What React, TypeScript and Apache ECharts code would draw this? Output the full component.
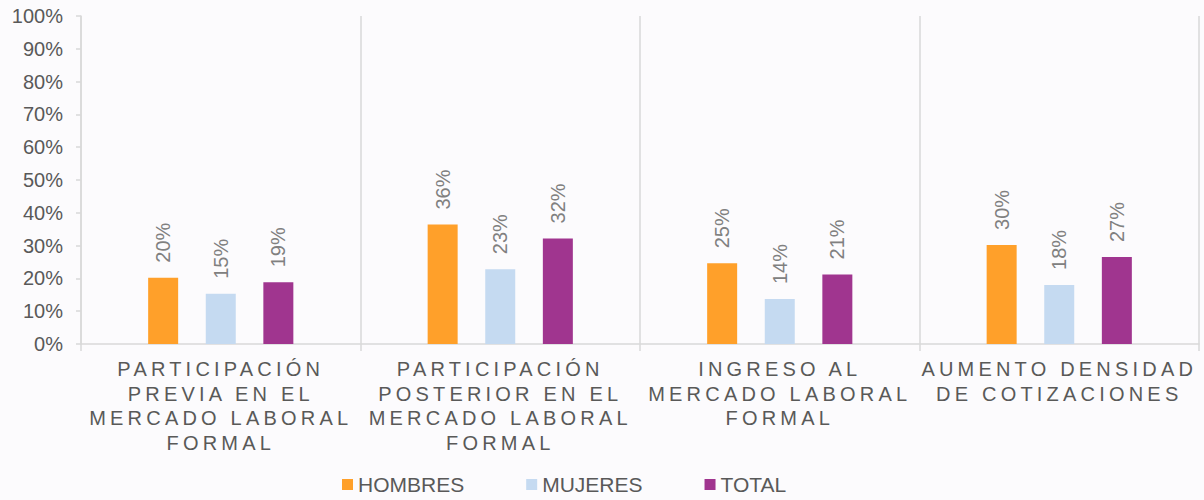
import React, { useEffect, useRef } from "react";
import * as echarts from "echarts";

const categories = [
  "PARTICIPACIÓN\nPREVIA EN EL\nMERCADO LABORAL\nFORMAL",
  "PARTICIPACIÓN\nPOSTERIOR EN EL\nMERCADO LABORAL\nFORMAL",
  "INGRESO AL\nMERCADO LABORAL\nFORMAL",
  "AUMENTO DENSIDAD\nDE COTIZACIONES",
];
const hombres = [20.2, 36.4, 24.6, 30.2];
const mujeres = [15.3, 22.8, 13.7, 18.0];
const total = [18.8, 32.2, 21.2, 26.5];
const seriesNames = ["HOMBRES", "MUJERES", "TOTAL"];
const colors = ["#FFA02A", "#C5DAF1", "#A0358F"];

const FONT = "'Liberation Sans', Arial, sans-serif";

export default function App() {
  const ref = useRef<HTMLDivElement>(null);
  useEffect(() => {
    if (!ref.current) return;
    const chart = echarts.init(ref.current, null, { renderer: "svg" });
    const label = {
      show: true,
      position: "top",
      rotate: 90,
      align: "left",
      verticalAlign: "middle",
      distance: 15,
      color: "#808080",
      fontSize: 20,
      fontFamily: FONT,
      formatter: (p: any) => Math.round(p.value) + "%",
    };
    const data = [hombres, mujeres, total];
    chart.setOption({
      animation: false,
      backgroundColor: "#FCFBFD",
      textStyle: { fontFamily: FONT },
      grid: { left: 81, right: 5, top: 16, bottom: 156, containLabel: false },
      legend: {
        left: 342,
        top: 474,
        padding: 0,
        itemWidth: 11,
        itemHeight: 11,
        itemGap: 62,
        icon: "rect",
        textStyle: { fontSize: 21, color: "#595959", fontFamily: FONT },
        data: seriesNames,
      },
      xAxis: {
        type: "category",
        data: categories,
        boundaryGap: true,
        axisLine: { show: true, lineStyle: { color: "#D9D9D9", width: 1.5 } },
        axisTick: { show: true, length: 7, lineStyle: { color: "#D9D9D9", width: 1.5 } },
        splitLine: { show: true, lineStyle: { color: "#D9D9D9", width: 1.5 } },
        axisLabel: {
          interval: 0,
          margin: 13,
          color: "#595958",
          fontSize: 20,
          lineHeight: 24.5,
          fontFamily: FONT,
        },
      },
      yAxis: {
        type: "value",
        min: 0,
        max: 100,
        interval: 10,
        axisLine: { show: true, lineStyle: { color: "#D9D9D9", width: 1.5 } },
        axisTick: { show: true, length: 5, lineStyle: { color: "#D9D9D9", width: 1.5 } },
        splitLine: { show: false },
        axisLabel: {
          formatter: "{value}%",
          color: "#595959",
          fontSize: 20,
          margin: 18,
          fontFamily: FONT,
        },
      },
      series: seriesNames.map((name, i) => ({
        name,
        type: "bar",
        data: data[i],
        barWidth: 30,
        barGap: "92%",
        itemStyle: { color: colors[i] },
        label,
      })),
    });
    const lines = new Set<string>();
    categories.forEach((c) => c.split("\n").forEach((l) => lines.add(l.trim())));
    ref.current.querySelectorAll("text").forEach((t) => {
      const s = (t.textContent || "").trim();
      if (lines.has(s)) (t as SVGTextElement).style.letterSpacing = "4.2px";
    });
    return () => chart.dispose();
  }, []);
  return (
    <div style={{ position: "absolute", left: 0, top: 0 }}>
      <div ref={ref} style={{ width: 1204, height: 500 }} />
    </div>
  );
}
